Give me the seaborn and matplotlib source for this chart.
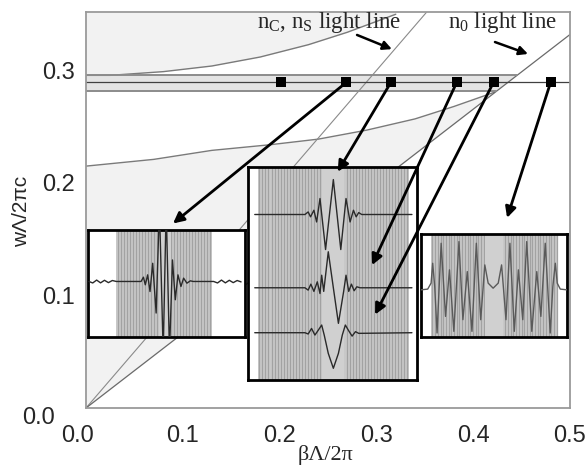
import numpy as np
import pandas as pd
import matplotlib
matplotlib.use("Agg")
import matplotlib.pyplot as plt
import matplotlib.transforms as mtransforms
import seaborn as sns

# ------------------------------------------------------------------ data
# band-edge curves of the photonic band diagram
upper_edge_x = [0.0, 0.025, 0.08, 0.13, 0.18, 0.23, 0.27, 0.32]
upper_edge_y = [0.2957, 0.2957, 0.299, 0.304, 0.312, 0.323, 0.334, 0.350]
lower_edge_x = [0.0, 0.07, 0.13, 0.19, 0.24, 0.29, 0.34, 0.38, 0.422]
lower_edge_y = [0.215, 0.221, 0.229, 0.234, 0.239, 0.247, 0.257, 0.268, 0.2807]
# guided band
band_top, band_mid, band_bot = 0.2957, 0.2895, 0.2815
# light lines (slopes w/beta)
slope_cs = 1.0      # nC, nS light line
slope_n0 = 0.664    # n0 light line
# computed modes (squares)
mode_beta = [0.201, 0.269, 0.315, 0.383, 0.421, 0.480]
mode_w = [0.2895, 0.2895, 0.2895, 0.2895, 0.2895, 0.2895]
# arrows from modes (index) to inset field plots (data coordinates)
arrow_mode = [1, 2, 3, 4, 5]
arrow_to_x = [0.0899, 0.260, 0.2955, 0.2986, 0.435]
arrow_to_y = [0.164, 0.210, 0.127, 0.083, 0.169]

# inset 1 field profile (normalised inset coordinates)
f1_x = [0.006, 0.03, 0.055, 0.08, 0.105, 0.13, 0.155, 0.18, 0.33, 0.338, 0.353, 0.365,
        0.380, 0.395, 0.412, 0.434, 0.455, 0.479, 0.498, 0.519, 0.538, 0.556, 0.573,
        0.592, 0.609, 0.630, 0.652, 0.67, 0.80, 0.825, 0.85, 0.875, 0.9, 0.925, 0.95, 0.975]
f1_y = [0.519, 0.505, 0.532, 0.506, 0.530, 0.508, 0.528, 0.519, 0.519, 0.519, 0.559, 0.488,
        0.581, 0.425, 0.689, 0.224, 1.217, -0.149, 1.217, -0.149, 0.720, 0.348, 0.581,
        0.472, 0.550, 0.503, 0.525, 0.519, 0.519, 0.505, 0.532, 0.506, 0.530, 0.508, 0.528, 0.515]

# inset 2 field profiles (three modes)
f2a_x = [0.040, 0.337, 0.356, 0.370, 0.390, 0.406, 0.426, 0.459, 0.505, 0.549, 0.580,
         0.604, 0.624, 0.640, 0.655, 0.673, 0.970]
f2a_y = [0.777, 0.777, 0.789, 0.766, 0.797, 0.742, 0.852, 0.6125, 0.941, 0.6125, 0.852,
         0.742, 0.797, 0.766, 0.786, 0.777, 0.777]
f2b_x = [0.040, 0.337, 0.356, 0.372, 0.390, 0.410, 0.426, 0.436, 0.448, 0.475, 0.505,
         0.535, 0.566, 0.580, 0.596, 0.612, 0.628, 0.644, 0.663, 0.970]
f2b_y = [0.433, 0.433, 0.422, 0.450, 0.416, 0.461, 0.406, 0.492, 0.416, 0.602, 0.433,
         0.266, 0.416, 0.492, 0.416, 0.450, 0.419, 0.4375, 0.433, 0.433]
f2c_x = [0.040, 0.337, 0.356, 0.376, 0.396, 0.416, 0.436, 0.451, 0.475, 0.505, 0.535,
         0.558, 0.576, 0.596, 0.616, 0.636, 0.655, 0.970]
f2c_y = [0.222, 0.222, 0.216, 0.242, 0.211, 0.234, 0.258, 0.211, 0.125, 0.055, 0.125,
         0.211, 0.258, 0.231, 0.206, 0.227, 0.219, 0.222]

# inset 3 field profile
f3_x = [0.0, 0.046, 0.069, 0.080, 0.094, 0.110, 0.138, 0.168, 0.195, 0.225, 0.260, 0.287,
        0.317, 0.349, 0.379, 0.409, 0.437, 0.460, 0.494, 0.529, 0.552, 0.582, 0.609, 0.639,
        0.667, 0.697, 0.724, 0.759, 0.793, 0.821, 0.851, 0.885, 0.903, 0.920, 0.933, 0.954, 1.0]
f3_y = [0.458, 0.465, 0.523, 0.716, 0.490, 0.039, 0.910, 0.200, 0.652, 0.055, 0.926, 0.168,
        0.635, 0.055, 0.910, 0.168, 0.700, 0.523, 0.474, 0.523, 0.700, 0.168, 0.910, 0.055,
        0.652, 0.168, 0.926, 0.055, 0.635, 0.200, 0.910, 0.039, 0.490, 0.716, 0.523, 0.465, 0.458]

# ------------------------------------------------------------------ style
sns.set_style("white")
plt.rcParams["font.family"] = ["Liberation Sans", "DejaVu Sans"]
plt.rcParams["mathtext.fontset"] = "custom"
plt.rcParams["mathtext.rm"] = "Liberation Serif"
plt.rcParams["mathtext.it"] = "Liberation Serif:italic"

W, H = 588, 470
fig = plt.figure(figsize=(W / 100, H / 100), dpi=100)
fig.patch.set_facecolor("white")


def px_rect(x0, y0, x1, y1):
    return [x0 / W, 1 - y1 / H, (x1 - x0) / W, (y1 - y0) / H]


ax = fig.add_axes(px_rect(86, 12, 570, 408))
ax.set_xlim(0, 0.5)
ax.set_ylim(0, 0.352)

shade = "#f2f2f2"
edge_c = "#7a7a7a"

# shaded regions
lx = np.array(lower_edge_x)
ax.fill_between(lx, slope_n0 * lx, lower_edge_y, color=shade, lw=0, zorder=0)
ax.fill_between(upper_edge_x, upper_edge_y, 0.352, color=shade, lw=0, zorder=0)
ax.fill([0, band_bot / slope_n0, band_top / slope_n0, 0],
        [band_bot, band_bot, band_top, band_top], color="#e4e4e4", lw=0, zorder=0)

# curves
curves = pd.DataFrame({"x": upper_edge_x, "y": upper_edge_y})
sns.lineplot(data=curves, x="x", y="y", ax=ax, color=edge_c, lw=1.0, sort=False)
curves = pd.DataFrame({"x": lower_edge_x, "y": lower_edge_y})
sns.lineplot(data=curves, x="x", y="y", ax=ax, color=edge_c, lw=1.0, sort=False)

# light lines
bx = np.array([0.0, 0.5])
sns.lineplot(x=bx, y=slope_cs * bx, ax=ax, color="#8a8a8a", lw=0.8)
sns.lineplot(x=bx, y=slope_n0 * bx, ax=ax, color="#6a6a6a", lw=0.9)

# guided band lines
ax.plot([0, band_top / slope_n0], [band_top, band_top], color="#8c8c8c", lw=1.4)
ax.plot([0, band_bot / slope_n0], [band_bot, band_bot], color="#8c8c8c", lw=1.4)
ax.axhline(band_mid, color="#404040", lw=0.9)

# modes
sns.scatterplot(x=mode_beta, y=mode_w, ax=ax, marker="s", s=45, color="black",
                edgecolor="black", linewidth=0, zorder=6)

# axes styling
for s in ax.spines.values():
    s.set_color("#9a9a9a")
    s.set_linewidth(1.3)
ax.set_xticks([0.0, 0.1, 0.2, 0.3, 0.4, 0.5])
ax.set_xticklabels(["0.0", "0.1", "0.2", "0.3", "0.4", "0.5"])
ax.set_yticks([0.0, 0.1, 0.2, 0.3])
ax.set_yticklabels(["0.0", "0.1", "0.2", "0.3"])
ax.tick_params(axis="x", direction="in", length=8, width=1.0, color="#8a8a8a",
               labelsize=17, pad=12)
ax.tick_params(axis="y", direction="in", length=0, labelsize=17, pad=8)
ax.set_xlabel("")
ax.set_ylabel("")
# hand-shifted zero labels
lab = ax.get_yticklabels()[0]
lab.set_transform(lab.get_transform() + mtransforms.ScaledTranslation(-0.2, -0.07, fig.dpi_scale_trans))
lab = ax.get_xticklabels()[0]
lab.set_transform(lab.get_transform() + mtransforms.ScaledTranslation(-0.08, 0, fig.dpi_scale_trans))

fig.text(326 / W, 1 - 455 / H, "βΛ/2π", family=["Liberation Serif"], fontsize=16,
         ha="center", va="center")
fig.text(22 / W, 1 - 211 / H, "wΛ/2πc", fontsize=15, rotation=90,
         ha="center", va="center")

# light-line labels
ax.text(0.1767, 0.3378, r"n$_\mathrm{C}$, n$_\mathrm{S}$ light line",
        family=["Liberation Serif"], fontsize=16.5, va="baseline", ha="left")
ax.text(0.374, 0.3378, r"n$_\mathrm{0}$ light line",
        family=["Liberation Serif"], fontsize=16.5, va="baseline", ha="left")
ax.annotate("", xy=(0.316, 0.319), xytext=(0.280, 0.3316),
            arrowprops=dict(arrowstyle="-|>", color="black", lw=1.8, mutation_scale=13,
                            shrinkA=0, shrinkB=0))
ax.annotate("", xy=(0.4566, 0.3147), xytext=(0.4225, 0.3253),
            arrowprops=dict(arrowstyle="-|>", color="black", lw=1.8, mutation_scale=13,
                            shrinkA=0, shrinkB=0))


# ------------------------------------------------------------------ insets
def stripes(iax, x0, x1, c0, c1, period):
    iax.axvspan(x0, x1, color="#c8c8c8", lw=0, zorder=0)
    pos = np.arange(x0 + period / 2, x1, period)
    pos = pos[(pos < c0) | (pos > c1)]
    iax.vlines(pos, 0, 1, color="#a2a2a2", lw=0.9, zorder=1)
    iax.axvspan(c0, c1, color="#d0d0d0", lw=0, zorder=1)


def make_inset(rect):
    iax = fig.add_axes(rect, zorder=4)
    iax.set_xlim(0, 1)
    iax.set_ylim(0, 1)
    iax.set_xticks([])
    iax.set_yticks([])
    iax.set_facecolor("white")
    for s in iax.spines.values():
        s.set_color("black")
        s.set_linewidth(2.0)
    return iax


in1 = make_inset(px_rect(88, 230, 245, 337))
stripes(in1, 0.18, 0.79, 0.45, 0.53, 0.019)
sns.lineplot(x=f1_x, y=f1_y, ax=in1, color="#2a2a2a", lw=1.0, sort=False, zorder=3)
in1.set_xlim(0, 1); in1.set_ylim(0, 1)
in1.set_xlabel(""); in1.set_ylabel("")

in2 = make_inset(px_rect(248, 167, 417, 380))
stripes(in2, 0.059, 0.95, 0.44, 0.57, 0.0178)
for fx, fy in [(f2a_x, f2a_y), (f2b_x, f2b_y), (f2c_x, f2c_y)]:
    sns.lineplot(x=fx, y=fy, ax=in2, color="#2a2a2a", lw=1.0, sort=False, zorder=3)
in2.set_xlim(0, 1); in2.set_ylim(0, 1)
in2.set_xlabel(""); in2.set_ylabel("")

in3 = make_inset(px_rect(421, 234, 567, 337))
stripes(in3, 0.069, 0.931, 0.437, 0.563, 0.0185)
sns.lineplot(x=f3_x, y=f3_y, ax=in3, color="#5a5a5a", lw=1.0, sort=False, zorder=3)
in3.set_xlim(0, 1); in3.set_ylim(0, 1)
in3.set_xlabel(""); in3.set_ylabel("")

# ------------------------------------------------------------------ arrows overlay
ov = fig.add_axes(ax.get_position(), zorder=8)
ov.set_xlim(ax.get_xlim())
ov.set_ylim(ax.get_ylim())
ov.axis("off")
ov.patch.set_alpha(0)
for i, tx, ty in zip(arrow_mode, arrow_to_x, arrow_to_y):
    ov.annotate("", xy=(tx, ty), xytext=(mode_beta[i], mode_w[i]),
                arrowprops=dict(arrowstyle="-|>", color="black", lw=2.0,
                                mutation_scale=16, shrinkA=0, shrinkB=0))

fig.savefig("out.png", dpi=100)
